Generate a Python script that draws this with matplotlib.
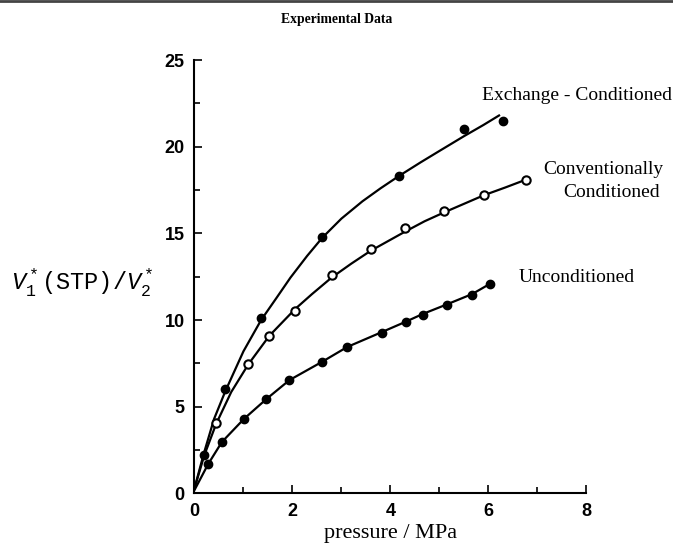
import matplotlib
matplotlib.use("Agg")
import matplotlib.pyplot as plt
from matplotlib.ticker import MultipleLocator

plt.rcParams['mathtext.fontset'] = 'custom'
plt.rcParams['mathtext.rm'] = 'Liberation Mono'
plt.rcParams['mathtext.it'] = 'Liberation Mono:italic'

# ---- data ----
exch_x = [0.19, 0.63, 1.36, 2.61, 4.17, 5.50, 6.30]
exch_y = [2.2, 6.0, 10.1, 14.8, 18.3, 21.0, 21.5]
exch_curve_x = [0.0, 0.19, 0.40, 0.63, 1.0, 1.36, 1.68, 1.96, 2.30, 2.61, 3.0, 3.43,
                3.80, 4.17, 4.62, 5.0, 5.50, 5.90, 6.22]
exch_curve_y = [0.3, 2.3, 4.3, 5.9, 8.2, 10.0, 11.3, 12.45, 13.7, 14.75, 15.85, 16.85,
                17.6, 18.3, 19.1, 19.75, 20.6, 21.25, 21.8]

conv_x = [0.44, 1.10, 1.53, 2.06, 2.80, 3.60, 4.30, 5.09, 5.91, 6.77]
conv_y = [4.06, 7.46, 9.08, 10.5, 12.6, 14.1, 15.3, 16.3, 17.2, 18.1]
conv_curve_x = [0.0, 0.20, 0.44, 0.75, 1.10, 1.53, 2.06, 2.40, 2.80, 3.20, 3.60, 4.30,
                4.70, 5.09, 5.50, 5.91, 6.35, 6.77]
conv_curve_y = [0.3, 2.2, 4.0, 5.85, 7.45, 9.1, 10.65, 11.5, 12.45, 13.25, 14.0, 15.1,
                15.7, 16.2, 16.7, 17.2, 17.65, 18.1]

unc_x = [0.28, 0.56, 1.01, 1.47, 1.94, 2.61, 3.12, 3.82, 4.31, 4.66, 5.15, 5.67, 6.04]
unc_y = [1.7, 2.97, 4.3, 5.45, 6.54, 7.58, 8.45, 9.25, 9.88, 10.3, 10.86, 11.44, 12.07]
unc_curve_x = [0.0, 0.28, 0.56, 1.01, 1.47, 1.94, 2.61, 3.12, 3.82, 4.31, 4.66, 5.15, 5.67, 6.04]
unc_curve_y = [0.2, 1.7, 2.97, 4.3, 5.45, 6.54, 7.6, 8.45, 9.3, 9.9, 10.35, 10.9, 11.5, 12.1]

labels = ["Exchange - Conditioned", "Conventionally", "Conditioned", "Unconditioned"]
label_pos = [(7.82, 22.97), (8.36, 18.7), (8.51, 17.38), (7.81, 12.48)]

fig = plt.figure(figsize=(6.73, 5.51), dpi=100)
ax = fig.add_axes([0.289, 0.1044, 0.582, 0.7867])

lw = 1.6
ax.plot(exch_curve_x, exch_curve_y, color='black', lw=lw, solid_joinstyle='round')
ax.plot(conv_curve_x, conv_curve_y, color='black', lw=lw, solid_joinstyle='round')
ax.plot(unc_curve_x, unc_curve_y, color='black', lw=lw, solid_joinstyle='round')
ax.plot(exch_x, exch_y, 'o', color='black', ms=6, zorder=3)
ax.plot(conv_x, conv_y, 'o', mfc='white', mec='black', mew=1.5, ms=6, zorder=3)
ax.plot(unc_x, unc_y, 'o', color='black', ms=6, zorder=3)

serif = 'Liberation Serif'
for lab, (lx, ly) in zip(labels, label_pos):
    ax.text(lx, ly, lab, ha='center', va='center', fontsize=14, family=serif,
            clip_on=False)

ax.set_xlim(0, 8)
ax.set_ylim(0, 25)
for s in ['top', 'right']:
    ax.spines[s].set_visible(False)
for s in ['left', 'bottom']:
    ax.spines[s].set_linewidth(1.5)

ax.xaxis.set_major_locator(MultipleLocator(2))
ax.xaxis.set_minor_locator(MultipleLocator(1))
ax.yaxis.set_major_locator(MultipleLocator(5))
ax.yaxis.set_minor_locator(MultipleLocator(2.5))
ax.tick_params(which='both', direction='in', width=1.2)
ax.tick_params(which='major', length=6, pad=7)
ax.tick_params(which='minor', length=4)
for t in ax.get_xticklabels() + ax.get_yticklabels():
    t.set_fontfamily('Liberation Sans')
    t.set_fontsize(13)
    t.set_fontweight('bold')

ax.set_xlabel('pressure / MPa', fontsize=16, family=serif, labelpad=3)
fig.text(0.122, 0.487, r'$V_1^*$(STP)/$V_2^*$', fontsize=17, ha='center', va='center',
         family='Liberation Mono')

fig.text(0.5, 0.9655, 'Experimental Data', ha='center', va='center', fontsize=9.8,
         family=serif, fontweight='bold')
fig.add_artist(plt.Line2D([0, 1], [0.998, 0.998], color='#444444', lw=2,
                          transform=fig.transFigure))

fig.savefig('out.png', dpi=100)
